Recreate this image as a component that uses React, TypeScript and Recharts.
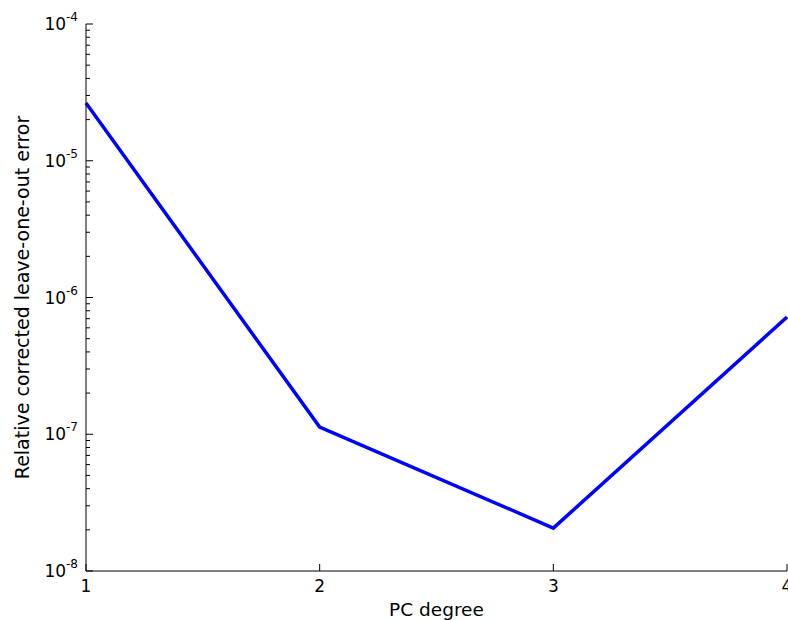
import { LineChart, Line, XAxis, YAxis, Label } from "recharts";

// LOO error per polynomial chaos degree
const degrees = [1, 2, 3, 4];
const looErrors = [2.64e-5, 1.13e-7, 2.06e-8, 7.2e-7];

const xTicks = [1, 2, 3, 4];
const yExponents = [-8, -7, -6, -5, -4];

const data = degrees.map((degree, i) => ({ degree, error: looErrors[i] }));

// log ticks: decades plus 2..9 minor ticks
const yTicks: number[] = [];
yExponents.forEach((e, i) => {
  const base = Math.pow(10, e);
  yTicks.push(base);
  if (i < yExponents.length - 1) {
    for (let m = 2; m <= 9; m++) yTicks.push(m * base);
  }
});

const FONT = "'DejaVu Sans', sans-serif";
const MAJOR = 7;
const MINOR = 4;

const isDecade = (v: number) => {
  const l = Math.log10(v);
  return Math.abs(l - Math.round(l)) < 1e-9;
};

const LeftTick = ({ x, y, payload }: any) => {
  const major = isDecade(payload.value);
  const exp = Math.round(Math.log10(payload.value));
  return (
    <g>
      <line x1={x} x2={x + (major ? MAJOR : MINOR)} y1={y} y2={y} stroke="#000" strokeWidth={1} />
      {major && (
        <text x={x - 8} y={y + 6} textAnchor="end" fontFamily={FONT} fontSize={17} fill="#000">
          10
          <tspan dy={-9} fontSize={12}>{String(exp)}</tspan>
        </text>
      )}
    </g>
  );
};

const RightTick = ({ x, y, payload }: any) => {
  const major = isDecade(payload.value);
  return <line x1={x} x2={x - (major ? MAJOR : MINOR)} y1={y} y2={y} stroke="#000" strokeWidth={1} />;
};

const BottomTick = ({ x, y, payload }: any) => (
  <g>
    <line x1={x} x2={x} y1={y} y2={y - MAJOR} stroke="#000" strokeWidth={1} />
    <text x={x} y={y + 21} textAnchor="middle" fontFamily={FONT} fontSize={17} fill="#000">
      {payload.value}
    </text>
  </g>
);

const TopTick = ({ x, y }: any) => (
  <line x1={x} x2={x} y1={y} y2={y + MAJOR} stroke="#000" strokeWidth={1} />
);

export default function App() {
  return (
    <div style={{ position: "absolute", left: 0, top: 0, background: "#fff" }}>
      <LineChart width={788} height={620} data={data} margin={{ top: 24, right: 1, bottom: 0, left: 0 }}>
        <XAxis
          xAxisId="b"
          type="number"
          dataKey="degree"
          domain={[1, 4]}
          ticks={xTicks}
          interval={0}
          height={49}
          tickSize={0}
          tickMargin={0}
          tickLine={false}
          tick={<BottomTick />}
          axisLine={{ stroke: "#000", strokeWidth: 1 }}
        >
          <Label
            content={({ viewBox }: any) => (
              <text
                x={viewBox.x + viewBox.width / 2}
                y={viewBox.y + 45}
                textAnchor="middle"
                fontFamily={FONT}
                fontSize={18.5}
                fill="#000"
              >
                PC degree
              </text>
            )}
          />
        </XAxis>
        <XAxis
          xAxisId="t"
          orientation="top"
          type="number"
          dataKey="degree"
          domain={[1, 4]}
          ticks={xTicks}
          interval={0}
          height={0}
          tickSize={0}
          tickMargin={0}
          tickLine={false}
          tick={<TopTick />}
          axisLine={{ stroke: "#000", strokeWidth: 1 }}
        />
        <YAxis
          yAxisId="l"
          type="number"
          scale="log"
          domain={[1e-8, 1e-4]}
          ticks={yTicks}
          interval={0}
          allowDataOverflow
          width={86}
          tickSize={0}
          tickMargin={0}
          tickLine={false}
          tick={<LeftTick />}
          axisLine={{ stroke: "#000", strokeWidth: 1 }}
        >
          <Label
            content={({ viewBox }: any) => {
              const cx = 22;
              const cy = viewBox.y + viewBox.height / 2;
              return (
                <text
                  x={cx}
                  y={cy}
                  transform={`rotate(-90 ${cx} ${cy})`}
                  textAnchor="middle"
                  dominantBaseline="central"
                  fontFamily={FONT}
                  fontSize={19}
                  fill="#000"
                >
                  Relative corrected leave-one-out error
                </text>
              );
            }}
          />
        </YAxis>
        <YAxis
          yAxisId="r"
          orientation="right"
          type="number"
          scale="log"
          domain={[1e-8, 1e-4]}
          ticks={yTicks}
          interval={0}
          allowDataOverflow
          width={0}
          tickSize={0}
          tickMargin={0}
          tickLine={false}
          tick={<RightTick />}
          axisLine={{ stroke: "#000", strokeWidth: 1 }}
        />
        <Line
          xAxisId="b"
          yAxisId="l"
          type="linear"
          dataKey="error"
          stroke="#0000ff"
          strokeWidth={3.5}
          dot={false}
          isAnimationActive={false}
        />
      </LineChart>
    </div>
  );
}
